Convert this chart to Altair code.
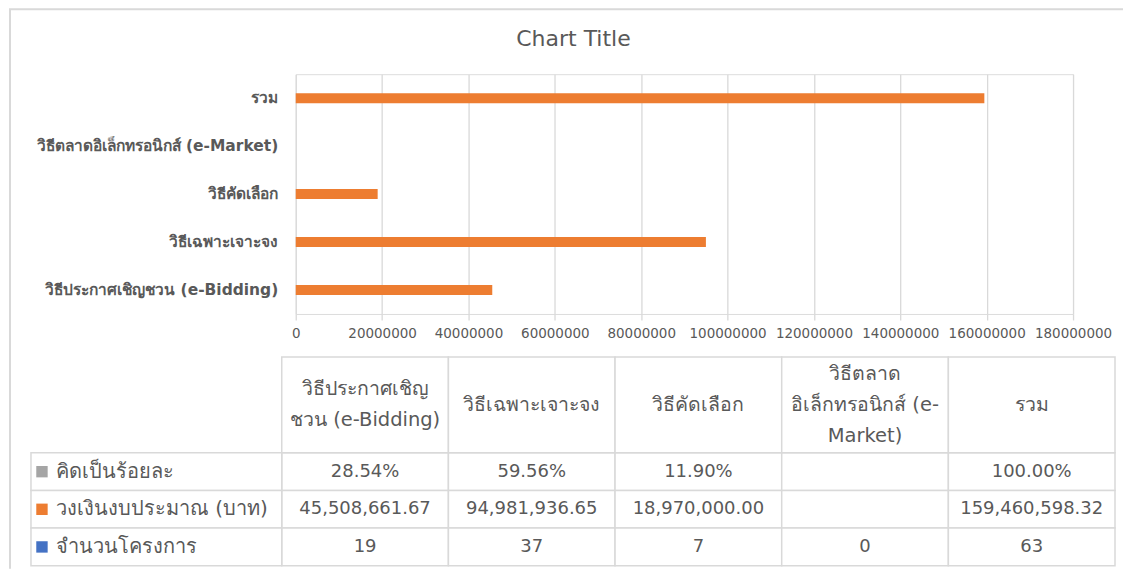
import altair as alt
import pandas as pd

# ---------------- data ----------------
categories = [
    "วิธีประกาศเชิญชวน (e-Bidding)",
    "วิธีเฉพาะเจาะจง",
    "วิธีคัดเลือก",
    "วิธีตลาดอิเล็กทรอนิกส์ (e-Market)",
    "รวม",
]
header_labels = [
    "วิธีประกาศเชิญ\nชวน (e-Bidding)",
    "วิธีเฉพาะเจาะจง",
    "วิธีคัดเลือก",
    "วิธีตลาด\nอิเล็กทรอนิกส์ (e-\nMarket)",
    "รวม",
]
budget = [45508661.67, 94981936.65, 18970000.00, None, 159460598.32]
percent = [28.54, 59.56, 11.90, None, 100.00]
projects = [19, 37, 7, 0, 63]
series_names = ["คิดเป็นร้อยละ", "วงเงินงบประมาณ (บาท)", "จำนวนโครงการ"]
series_colors = ["#A5A5A5", "#ED7D31", "#4472C4"]
x_ticks = [0, 20000000, 40000000, 60000000, 80000000, 100000000,
           120000000, 140000000, 160000000, 180000000]
chart_title = "Chart Title"

# ---------------- tables built from the lists ----------------
bar_df = pd.DataFrame({"category": categories, "budget": budget})


def fmt_pct(v):
    return "" if v is None else f"{v:.2f}%"


def fmt_money(v):
    return "" if v is None else f"{v:,.2f}"


def fmt_int(v):
    return "" if v is None else f"{v:d}"


cell_rows = []
for i, c in enumerate(categories):
    cell_rows.append({"row": series_names[0], "col": c, "text": fmt_pct(percent[i])})
    cell_rows.append({"row": series_names[1], "col": c, "text": fmt_money(budget[i])})
    cell_rows.append({"row": series_names[2], "col": c, "text": fmt_int(projects[i])})
cells_df = pd.DataFrame(cell_rows)

header_df = pd.DataFrame({"col": categories, "label": header_labels, "key": "header"})
rowhdr_df = pd.DataFrame({"row": series_names, "key": "label"})

# ---------------- style / layout ----------------
W, H = 778, 240
FONT = "DejaVu Sans"
GRID = "#d9d9d9"
TXT = "#595959"
LINE_H = 31
HDR_TOP, HDR_BOTTOM = 283, 379      # header row of the data table (px below plot top)
ROWS_BOTTOM = 492

col_scale = alt.Scale(domain=categories, range=[-14, 820], paddingInner=0, paddingOuter=0)
row_scale = alt.Scale(domain=series_names, range=[HDR_BOTTOM, ROWS_BOTTOM], paddingInner=0, paddingOuter=0)
hdr_row_scale = alt.Scale(domain=["header"], range=[HDR_TOP, HDR_BOTTOM], paddingInner=0, paddingOuter=0)
rowhdr_col_scale = alt.Scale(domain=["label"], range=[-265, -14], paddingInner=0, paddingOuter=0)

bars = alt.Chart(bar_df).mark_bar(color="#ED7D31", size=10).encode(
    x=alt.X(
        "budget:Q",
        scale=alt.Scale(domain=[0, 180000000], nice=False),
        axis=alt.Axis(
            values=x_ticks, format="d", grid=True, gridColor=GRID, gridWidth=1.3,
            tickColor=GRID, tickWidth=1.3, tickSize=6, domain=False,
            labelFontSize=13.5, labelColor=TXT, labelFont=FONT, labelPadding=7,
            labelOverlap=False, labelFlush=False, title=None,
        ),
    ),
    y=alt.Y(
        "category:N",
        sort=categories[::-1],
        scale=alt.Scale(paddingInner=0, paddingOuter=0),
        axis=alt.Axis(
            title=None, ticks=False, domain=False, labelPadding=18,
            labelFontSize=15.5, labelFontWeight="bold", labelColor=TXT,
            labelFont=FONT, labelLimit=400, grid=False,
        ),
    ),
)

cell_rect = alt.Chart(cells_df).mark_rect(fill="white", stroke=GRID, strokeWidth=1.5).encode(
    x=alt.X("col:N", scale=col_scale, axis=None),
    y=alt.Y("row:N", scale=row_scale, axis=None),
)
cell_text = alt.Chart(cells_df).mark_text(font=FONT, fontSize=18, color=TXT).encode(
    x=alt.X("col:N", scale=col_scale, axis=None),
    y=alt.Y("row:N", scale=row_scale, axis=None),
    text="text:N",
)

hdr_rect = alt.Chart(header_df).mark_rect(fill="white", stroke=GRID, strokeWidth=1.5).encode(
    x=alt.X("col:N", scale=col_scale, axis=None),
    y=alt.Y("key:N", scale=hdr_row_scale, axis=None),
)
# multi-line header labels: offset from the cell top so each block is centred in its cell
half_hdr = (HDR_BOTTOM - HDR_TOP) / 2
hdr_text = alt.Chart(header_df).transform_calculate(
    shift=f"{half_hdr} - (length(split(datum.label, '\\n')) - 1) * {LINE_H / 2}"
).mark_text(
    font=FONT, fontSize=19.5, color=TXT, lineBreak="\n", lineHeight=LINE_H, baseline="middle"
).encode(
    x=alt.X("col:N", scale=col_scale, axis=None),
    y=alt.Y("key:N", scale=hdr_row_scale, axis=None),
    yOffset=alt.YOffset("shift:Q", scale=None),
    text="label:N",
)

rowhdr_rect = alt.Chart(rowhdr_df).mark_rect(fill="white", stroke=GRID, strokeWidth=1.5).encode(
    x=alt.X("key:N", scale=rowhdr_col_scale, axis=None),
    y=alt.Y("row:N", scale=row_scale, axis=None),
)
# positions inside the row-header column are given relative to its centre
rowhdr_text = alt.Chart(rowhdr_df).mark_text(
    font=FONT, fontSize=20, color=TXT, align="left", dx=-100.5
).encode(
    x=alt.X("key:N", scale=rowhdr_col_scale, axis=None),
    y=alt.Y("row:N", scale=row_scale, axis=None),
    text="row:N",
)
rowhdr_sq = alt.Chart(rowhdr_df).mark_point(
    shape="square", filled=True, size=130, opacity=1, xOffset=-114.5
).encode(
    x=alt.X("key:N", scale=rowhdr_col_scale, axis=None),
    y=alt.Y("row:N", scale=row_scale, axis=None),
    color=alt.Color("row:N", scale=alt.Scale(domain=series_names, range=series_colors), legend=None),
)

one = alt.Data(values=[{"k": 1}])
border_left = alt.Chart(one).mark_rule(color=GRID, strokeWidth=2).encode(
    x=alt.value(-286), y=alt.value(-65), y2=alt.value(495)
)
border_top = alt.Chart(one).mark_rule(color=GRID, strokeWidth=2).encode(
    x=alt.value(-287), x2=alt.value(828), y=alt.value(-65)
)

chart = alt.layer(
    border_left, border_top,
    bars,
    cell_rect, cell_text,
    hdr_rect, hdr_text,
    rowhdr_rect, rowhdr_text, rowhdr_sq,
).resolve_scale(
    x="independent", y="independent"
).properties(
    width=W, height=H, padding=0,
    title=alt.Title(
        chart_title, fontSize=22, color=TXT, font=FONT, fontWeight="normal",
        anchor="middle", dx=-111, offset=-43,
    ),
).configure_view(stroke=None).configure(background="white")

chart.save("out.html", embed_options={"renderer": "svg", "actions": False})
